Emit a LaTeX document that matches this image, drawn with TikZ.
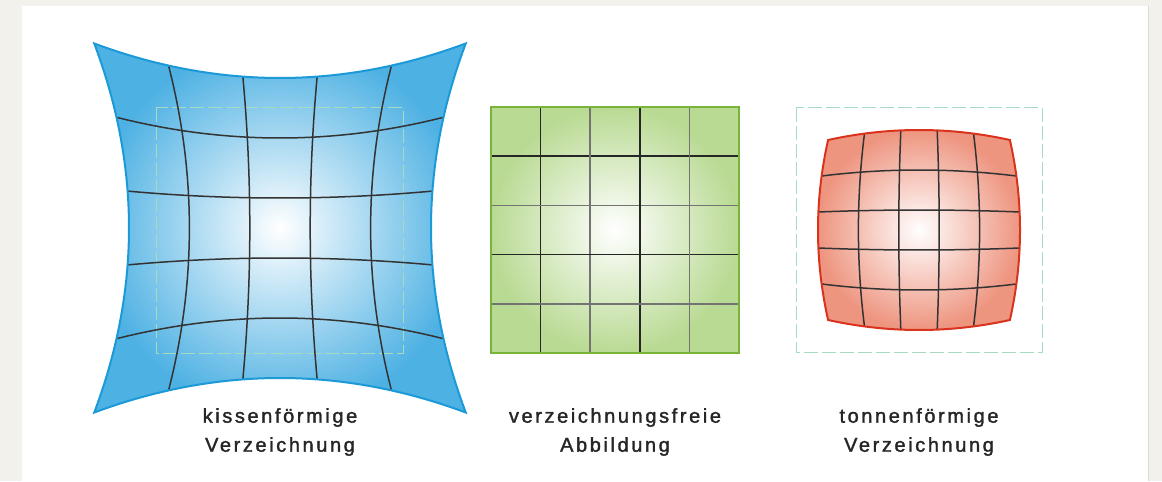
\documentclass[tikz,border=0pt]{standalone}
\usepackage{fontspec}
\newfontfamily\lblfont{Liberation Sans}[LetterSpace=13,FakeBold=1.6]
\definecolor{papier}{HTML}{F2F1EC}
\definecolor{kblau}{HTML}{1B9AD7}\definecolor{kblaufl}{HTML}{4EB1E3}
\definecolor{fgruen}{HTML}{78B43A}\definecolor{fgruenfl}{HTML}{B9DA93}
\definecolor{trot}{HTML}{D9331E}\definecolor{trotfl}{HTML}{EE9580}
\definecolor{hilfsgruen}{HTML}{A6DBBF}

\begin{document}
\begin{tikzpicture}[x=1pt,y=-1pt,
 declare function={kx(\p,\q)=280+151*\p*(1+.23*\q*\q);ky(\p,\q)=228+150*\q*(1+.23*\p*\p);
  tx(\p,\q)=919+101*\p*(1-.1*\q*\q);ty(\p,\q)=230+100*\q*(1-.1*\p*\p);},
 gitter/.style={black!80,line width=1.5pt},
 hilfs/.style={hilfsgruen,line width=1pt,dash pattern=on 14pt off 4pt},
 lbl/.style={font=\lblfont\fontsize{20}{29}\selectfont,text=black!85,align=center,anchor=north,inner sep=0pt}]
\fill[papier](0,0)rectangle(1162,481);\fill[white](22,6)rectangle(1148,481);\draw[black!15](1148,6)--(1148,481);
% kissen
\shade[inner color=white,outer color=kblaufl]plot[domain=-1:1,samples=40]({kx(\x,-1)},{ky(\x,-1)})--plot[domain=-1:1,samples=40]({kx(1,\x)},{ky(1,\x)})
 --plot[domain=1:-1,samples=40]({kx(\x,1)},{ky(\x,1)})--plot[domain=1:-1,samples=40]({kx(-1,\x)},{ky(-1,\x)})--cycle;
\draw[hilfs](156,108)rectangle(403,353);
\foreach\s in{-.6,-.2,.2,.6}{\draw[gitter]plot[domain=-1:1,samples=30]({kx(\s,\x)},{ky(\s,\x)});\draw[gitter]plot[domain=-1:1,samples=30]({kx(\x,\s)},{ky(\x,\s)});}
\draw[kblau,line width=2pt,line join=miter]plot[domain=-1:1,samples=40]({kx(\x,-1)},{ky(\x,-1)})--plot[domain=-1:1,samples=40]({kx(1,\x)},{ky(1,\x)})
 --plot[domain=1:-1,samples=40]({kx(\x,1)},{ky(\x,1)})--plot[domain=1:-1,samples=40]({kx(-1,\x)},{ky(-1,\x)})--cycle;
% frei
\shade[inner color=white,outer color=fgruenfl](491,107)rectangle(739,353);
\foreach\i in{1,...,4}{\pgfmathsetmacro\g{isodd(\i)?85:55}
 \draw[gitter,black!\g]({491+49.6*\i},107)--({491+49.6*\i},353);\draw[gitter,black!\g](491,{107+49.2*\i})--(739,{107+49.2*\i});}
\draw[fgruen,line width=2.8pt](491,107)rectangle(739,353);
% tonne
\draw[hilfs](796,108)rectangle(1042,352);
\shade[inner color=white,outer color=trotfl]plot[domain=-1:1,samples=40]({tx(\x,-1)},{ty(\x,-1)})--plot[domain=-1:1,samples=40]({tx(1,\x)},{ty(1,\x)})
 --plot[domain=1:-1,samples=40]({tx(\x,1)},{ty(\x,1)})--plot[domain=1:-1,samples=40]({tx(-1,\x)},{ty(-1,\x)})--cycle;
\foreach\s in{-.6,-.2,.2,.6}{\draw[gitter]plot[domain=-1:1,samples=30]({tx(\s,\x)},{ty(\s,\x)});\draw[gitter]plot[domain=-1:1,samples=30]({tx(\x,\s)},{ty(\x,\s)});}
\draw[trot,line width=2pt]plot[domain=-1:1,samples=40]({tx(\x,-1)},{ty(\x,-1)})--plot[domain=-1:1,samples=40]({tx(1,\x)},{ty(1,\x)})
 --plot[domain=1:-1,samples=40]({tx(\x,1)},{ty(\x,1)})--plot[domain=1:-1,samples=40]({tx(-1,\x)},{ty(-1,\x)})--cycle;
% texte
\node[lbl](kissen)at(280,408){kissenförmige\\Verzeichnung};
\node[lbl](frei)at(615,408){verzeichnungsfreie\\Abbildung};
\node[lbl](tonne)at(919,408){tonnenförmige\\Verzeichnung};
\end{tikzpicture}
\end{document}
